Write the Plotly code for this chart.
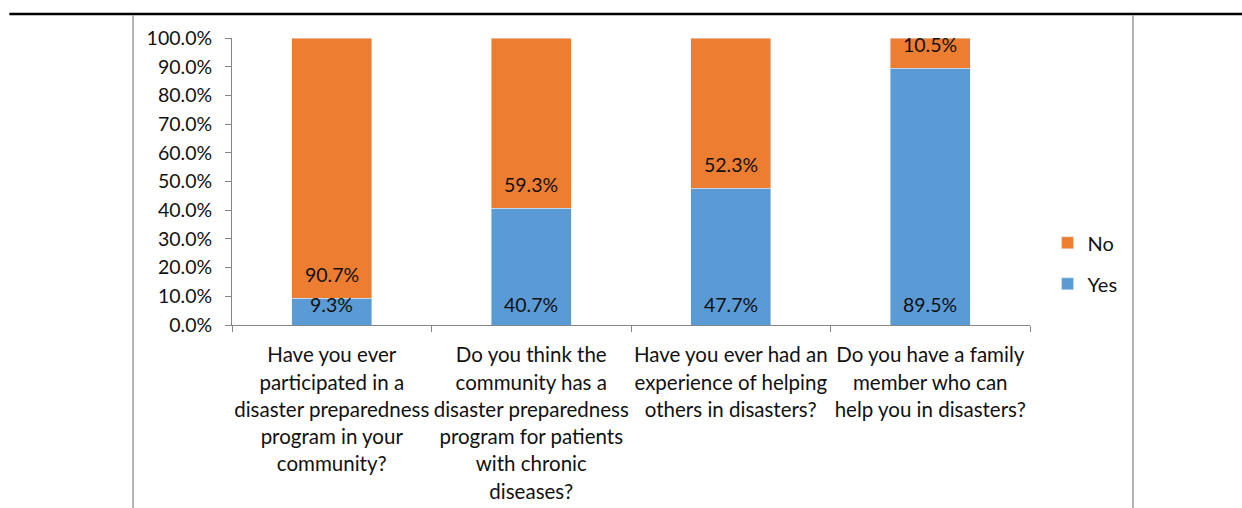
import plotly.graph_objects as go

categories = [
    "Have you ever<br>participated in a<br>disaster preparedness<br>program in your<br>community?",
    "Do you think the<br>community has a<br>disaster preparedness<br>program for patients<br>with chronic<br>diseases?",
    "Have you ever had an<br>experience of helping<br>others in disasters?",
    "Do you have a family<br>member who can<br>help you in disasters?",
]
yes_values = [9.3, 40.7, 47.7, 89.5]
no_values = [90.7, 59.3, 52.3, 10.5]
y_ticks = [0, 10, 20, 30, 40, 50, 60, 70, 80, 90, 100]

FONT = "Lato, 'Noto Sans', sans-serif"
TXT = "#111111"
LBL_SIZE = 20.5


def wrap_label(lbl):
    parts = lbl.split("<br>")
    return "<br>".join(f"<span style='font-size:{LBL_SIZE}px'>{p}</span>" for p in parts)


cat_labels = [wrap_label(c) for c in categories]

fig = go.Figure()
fig.add_trace(go.Bar(x=cat_labels, y=yes_values, name="Yes", marker_color="#5B9BD5",
                     width=0.4, legendgroup="yes", legendrank=2, hoverinfo="skip"))
fig.add_trace(go.Bar(x=cat_labels, y=no_values, name="No", marker_color="#ED7D31",
                     width=0.4, legendgroup="no", legendrank=1, hoverinfo="skip"))

annotations = []
for c, yv, nv in zip(cat_labels, yes_values, no_values):
    annotations.append(dict(x=c, y=0, xref="x", yref="y", text=f"{yv:.1f}%", showarrow=False,
                            yanchor="middle", yshift=21, font=dict(size=19.5, color=TXT, family=FONT)))
    annotations.append(dict(x=c, y=yv, xref="x", yref="y", text=f"{nv:.1f}%", showarrow=False,
                            yanchor="middle", yshift=24, font=dict(size=19.5, color=TXT, family=FONT)))

shapes = [
    dict(type="line", xref="paper", yref="paper", x0=-0.279, x1=1.27, y0=1.0836, y1=1.0836,
         line=dict(color="black", width=2.5)),
    dict(type="line", xref="paper", yref="paper", x0=-0.124, x1=-0.124, y0=1.08, y1=-0.7,
         line=dict(color="#8c8c8c", width=1.3)),
    dict(type="line", xref="paper", yref="paper", x0=1.129, x1=1.129, y0=1.08, y1=-0.7,
         line=dict(color="#8c8c8c", width=1.3)),
]

fig.update_layout(
    barmode="stack",
    width=1242, height=508,
    margin=dict(l=232, r=212, t=38, b=183, pad=0, autoexpand=False),
    paper_bgcolor="white", plot_bgcolor="white",
    font=dict(family=FONT, color=TXT, size=19),
    showlegend=True,
    legend=dict(x=1.022, xanchor="left", y=0.215, yanchor="middle", traceorder="grouped",
                tracegroupgap=12, font=dict(size=20, color=TXT, family=FONT),
                itemwidth=30, bgcolor="rgba(0,0,0,0)"),
    annotations=annotations,
    shapes=shapes,
    bargap=0.6,
)
fig.update_yaxes(range=[0, 100], tickvals=y_ticks, ticktext=[f"{v:.1f}%" for v in y_ticks],
                 showgrid=False, zeroline=False, showline=True, linecolor="#868686", linewidth=1,
                 ticks="outside", ticklen=6, tickcolor="#868686", automargin=False,
                 tickfont=dict(size=19.5, color=TXT, family=FONT), ticklabelstandoff=9)
fig.update_xaxes(showgrid=False, showline=True, linecolor="#868686", linewidth=1,
                 ticks="outside", ticklen=6, tickcolor="#868686", tickson="boundaries", automargin=False,
                 tickangle=0, tickfont=dict(size=21, color=TXT, family=FONT), ticklabelstandoff=11)

fig.write_html("out.html")
